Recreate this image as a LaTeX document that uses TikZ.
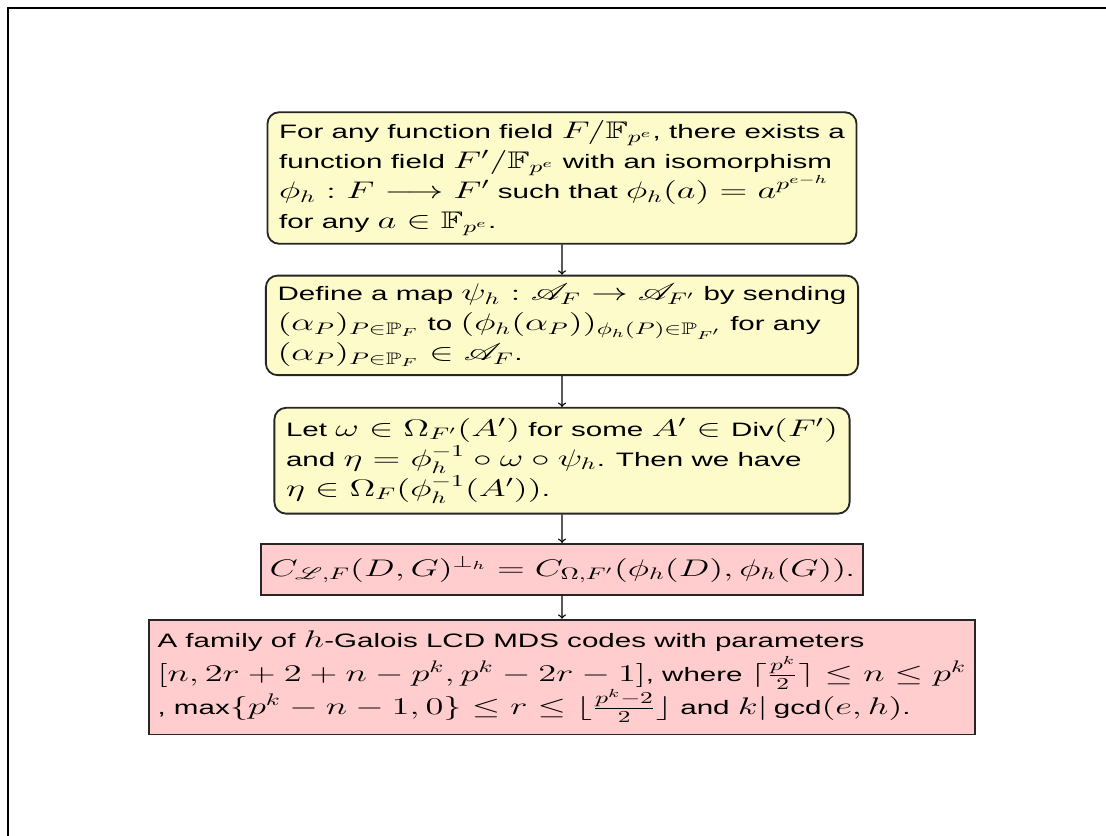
\documentclass[tikz,border=0pt]{standalone}
\usepackage{amsmath}
\usepackage{amssymb}
\usepackage{mathrsfs}
\usepackage[no-math]{fontspec}
\setmainfont[Scale=0.81]{Liberation Sans}
\usetikzlibrary{positioning}
\definecolor{stepyellow}{RGB}{253,251,202}
\definecolor{resultpink}{RGB}{255,205,205}

\begin{document}
\begin{tikzpicture}[x=0.6pt, y=-0.6pt,
    stepbox/.style={draw=black!85, line width=1.1pt, rounded corners=7pt, fill=stepyellow,
        xscale=1.52, transform shape, align=left, inner xsep=4.6pt, inner ysep=5pt,
        font=\fontsize{14.4}{18}\selectfont},
    resultbox/.style={draw=black!85, line width=1.1pt, fill=resultpink,
        xscale=1.52, transform shape, align=left, inner xsep=3.4pt, inner ysep=5pt,
        font=\fontsize{14.4}{20}\selectfont},
    link/.style={->, line width=0.8pt}]
    \useasboundingbox (0,0) rectangle (1106,836);
    \draw[line width=1.7pt] (8,836) -- (8,8) -- (1106,8);

    \node[stepbox] (iso) at (562,178) {For any function field $F/\mathbb{F}_{p^e}$, there exists a\\
        function field $F'/\mathbb{F}_{p^e}$ with an isomorphism\\
        $\phi_h : F \longrightarrow F'$ such that $\phi_h(a) = a^{p^{e-h}}$\\
        for any $a \in \mathbb{F}_{p^e}$.};
    \node[stepbox, below=18pt of iso] (psi) {Define a map $\psi_h : \mathscr{A}_F \rightarrow \mathscr{A}_{F'}$ by sending\\
        $(\alpha_P)_{P\in\mathbb{P}_F}$ to $(\phi_h(\alpha_P))_{\phi_h(P)\in\mathbb{P}_{F'}}$ for any\\
        $(\alpha_P)_{P\in\mathbb{P}_F} \in \mathscr{A}_F$.};
    \node[stepbox, inner ysep=6.2pt, below=18.5pt of psi] (omega) {Let $\omega \in \Omega_{F'}(A')$ for some $A' \in \text{Div}(F')$\\
        and $\eta = \phi_h^{-1} \circ \omega \circ \psi_h$. Then we have\\
        $\eta \in \Omega_F(\phi_h^{-1}(A'))$.};
    \node[resultbox, minimum height=30.6pt, below=17pt of omega] (dual) {$C_{\mathscr{L},F}(D,G)^{\perp_h} = C_{\Omega,F'}(\phi_h(D),\phi_h(G))$.};
    \node[resultbox, inner ysep=7pt, below=13.8pt of dual] (codes) {A family of $h$-Galois LCD MDS codes with parameters\\
        $[n, 2r+2+n-p^k, p^k-2r-1]$, where $\lceil \frac{p^k}{2} \rceil \le n \le p^k$\\
        , $\text{max}\{p^k-n-1,0\} \le r \le \lfloor \frac{p^k-2}{2} \rfloor$ and $k|\,\text{gcd}(e,h)$.};

    \draw[link] (iso) -- (psi);
    \draw[link] (psi) -- (omega);
    \draw[link] (omega) -- (dual);
    \draw[link] (dual) -- (codes);
\end{tikzpicture}
\end{document}
